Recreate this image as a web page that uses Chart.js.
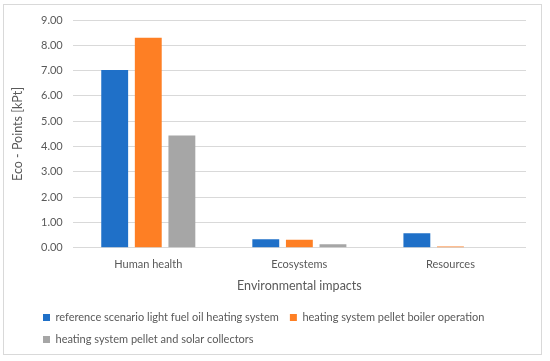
<!DOCTYPE html>
<html>
<head>
<meta charset="utf-8">
<script src="https://cdn.jsdelivr.net/npm/chart.js@4.4.1/dist/chart.umd.min.js"></script>
<style>
  html, body { margin: 0; padding: 0; background: #fff; }
  #wrap { width: 550px; height: 361px; }
</style>
</head>
<body>
<div id="wrap"><canvas id="chart-1"></canvas></div>
<script>
const categories = ["Human health", "Ecosystems", "Resources"];
const referenceOil = [7.02, 0.34, 0.57];
const pelletBoiler = [8.30, 0.32, 0.05];
const pelletSolar = [4.44, 0.14, 0.02];
const yMin = 0, yMax = 9, yStep = 1;

const textGray = "#595959";
const fontFamily = "Lato, 'Open Sans', sans-serif";

// light frame like the office chart area + shift legend to the left margin
const framePlugin = {
  id: "frame",
  beforeDraw(chart) {
    const c = chart.ctx;
    c.save();
    c.fillStyle = "#ffffff";
    c.fillRect(0, 0, chart.width, chart.height);
    c.strokeStyle = "#d9d9d9";
    c.lineWidth = 1;
    c.strokeRect(3.5, 4.5, 538, 350);
    c.restore();
  },
  afterLayout(chart) {
    chart.legend.left = 32;
  }
};

const ctx1 = document.getElementById("chart-1").getContext("2d");
const myChart1 = new Chart(ctx1, {
  type: "bar",
  data: {
    labels: categories,
    datasets: [
      {
        label: "reference scenario light fuel oil heating system",
        data: referenceOil,
        backgroundColor: "#1f70c8",
      },
      {
        label: "heating system pellet boiler operation",
        data: pelletBoiler,
        backgroundColor: "#fe7f24",
      },
      {
        label: "heating system pellet and solar collectors",
        data: pelletSolar,
        backgroundColor: "#a6a6a6",
      },
    ],
  },
  options: {
    responsive: true,
    maintainAspectRatio: false,
    animation: false,
    categoryPercentage: 0.667,
    barPercentage: 0.8,
    layout: { padding: { top: 20, right: 24, bottom: 6, left: 10 } },
    plugins: {
      tooltip: { enabled: false },
      legend: {
        position: "bottom",
        align: "start",
        labels: {
          boxWidth: 7,
          boxHeight: 7,
          padding: 11,
          color: textGray,
          font: { family: fontFamily, size: 11 },
        },
      },
    },
    scales: {
      x: {
        grid: { display: false },
        border: { display: false },
        ticks: { color: textGray, font: { family: fontFamily, size: 11 }, padding: 2.5 },
        title: {
          display: true,
          text: "Environmental impacts",
          color: textGray,
          font: { family: fontFamily, size: 12.5 },
          padding: { top: 4, bottom: 8 },
        },
      },
      y: {
        min: yMin,
        max: yMax,
        grid: { color: "#d9d9d9", drawTicks: false },
        border: { display: false },
        ticks: {
          stepSize: yStep,
          color: textGray,
          font: { family: fontFamily, size: 11 },
          padding: 10,
          callback: (v) => v.toFixed(2),
        },
        title: {
          display: true,
          text: "Eco - Points [kPt]",
          color: textGray,
          font: { family: fontFamily, size: 12.5 },
          padding: { top: 0, bottom: 6 },
        },
      },
    },
  },
  plugins: [framePlugin],
});
</script>
</body>
</html>
